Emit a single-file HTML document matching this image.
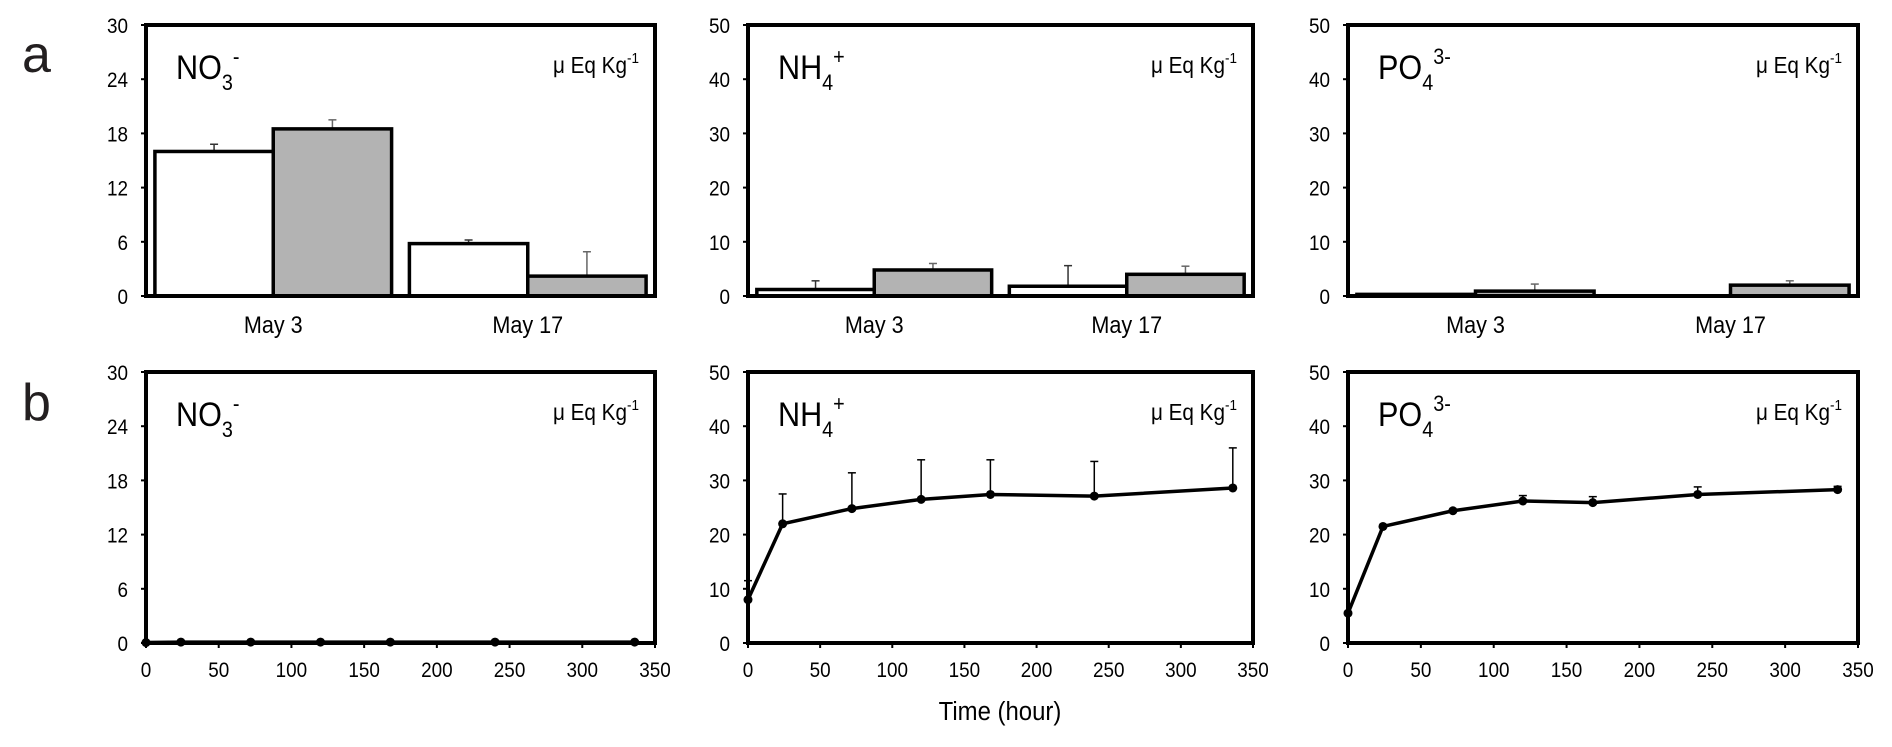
<!DOCTYPE html>
<html><head><meta charset="utf-8"><style>
body{margin:0;background:#fff;}
svg{display:block;font-family:"Liberation Sans",Arial,sans-serif;}
</style></head><body>
<svg id="fig" width="1892" height="747" viewBox="0 0 1892 747" xmlns="http://www.w3.org/2000/svg">
<text x="22" y="72" font-size="52" fill="#231f20">a</text>
<text x="22" y="420" font-size="52" fill="#231f20">b</text>
<text x="1000" y="720" font-size="26" text-anchor="middle" transform="translate(1000 0) scale(0.92 1) translate(-1000 0)">Time (hour)</text>
</svg>
<script>
// ---- data ----
const barCategories = ["May 3", "May 17"];
const no3White = [16, 5.8];
const no3WhiteErr = [16.8, 6.2];
const no3Gray = [18.5, 2.2];
const no3GrayErr = [19.5, 4.9];
const nh4White = [1.2, 1.8];
const nh4WhiteErr = [2.8, 5.6];
const nh4Gray = [4.8, 4.0];
const nh4GrayErr = [6.0, 5.5];
const po4White = [0.3, 0];
const po4WhiteErr = [0.3, 0];
const po4Gray = [0.9, 2.0];
const po4GrayErr = [2.2, 2.8];
const times = [0, 24, 72, 120, 168, 240, 336];
const no3Line = [0.05, 0.1, 0.1, 0.1, 0.1, 0.1, 0.1];
const no3LineErr = [0.05, 0.1, 0.1, 0.1, 0.1, 0.1, 0.1];
const nh4Line = [8, 22, 24.8, 26.5, 27.4, 27.1, 28.6];
const nh4LineErr = [11.5, 27.5, 31.4, 33.8, 33.8, 33.5, 36];
const po4Line = [5.5, 21.5, 24.4, 26.2, 25.9, 27.4, 28.3];
const po4LineErr = [5.5, 21.5, 24.4, 27.2, 27.0, 28.8, 28.9];
const ticks30 = [0, 6, 12, 18, 24, 30];
const ticks50 = [0, 10, 20, 30, 40, 50];
const timeTicks = [0, 50, 100, 150, 200, 250, 300, 350];

const NS = "http://www.w3.org/2000/svg";
const svg = document.getElementById("fig");
function mk(tag, attrs, parent, text) {
  const e = document.createElementNS(NS, tag);
  for (const k in attrs) e.setAttribute(k, attrs[k]);
  if (text !== undefined) e.textContent = text;
  (parent || svg).appendChild(e);
  return e;
}
function squeeze(el, ax) {
  el.setAttribute("transform", "translate(" + ax + " 0) scale(0.9 1) translate(" + (-ax) + " 0)");
}
const cols = [[146, 655], [748, 1253], [1348, 1858]];
const rows = [[25, 296], [372, 643]];

function frame(col, row, ticks, ymax, ion, sub, sup, name) {
  const [x0, x1] = cols[col], [y0, y1] = rows[row];
  const g = mk("g", {});
  
  
  const y = v => y1 - v / ymax * (y1 - y0);
  ticks.forEach(t => {
    const l = mk("line", {x1: x0 - 5, x2: x0, y1: y(t), y2: y(t), stroke: "#000", "stroke-width": 2}, g);
    
    
    const tx = mk("text", {x: x0 - 18, y: y(t) + 8, "font-size": 21, "text-anchor": "end"}, g, String(t));
    squeeze(tx, x0 - 18);
    
    
  });
  const il = mk("text", {x: x0 + 30, y: y0 + 54, "font-size": 34}, g);
  squeeze(il, x0 + 30);
  
  
  mk("tspan", {}, il, ion);
  mk("tspan", {"font-size": 22, dy: 11}, il, sub);
  mk("tspan", {"font-size": 22, dy: -26}, il, sup);
  const u = mk("text", {x: x1 - 16, y: y0 + 48, "font-size": 23, "text-anchor": "end"}, g);
  squeeze(u, x1 - 16);
  
  
  mk("tspan", {}, u, "μ Eq Kg");
  mk("tspan", {"font-size": 15, dy: -10}, u, "-1");
  return {g, x0, x1, y0, y1, y};
}
function border(p) {
  const r = mk("rect", {x: p.x0, y: p.y0, width: p.x1 - p.x0, height: p.y1 - p.y0, fill: "none", stroke: "#000", "stroke-width": 4}, p.g);
  
  
}
function barPanel(col, ymax, ticks, white, whiteErr, gray, grayErr, ion, sub, sup, name) {
  const p = frame(col, 0, ticks, ymax, ion, sub, sup, name);
  const cw = (p.x1 - p.x0) / barCategories.length;
  barCategories.forEach((c, i) => {
    const cx = p.x0 + cw * (i + 0.5);
    const bw = cw * 0.465;
    [[white, whiteErr, "#fff", cx - bw, "#333"], [gray, grayErr, "#b3b3b3", cx, "#666"]].forEach(([vals, errs, fill, bx, ec], k) => {
      const ex = bx + bw / 2;
      if (errs[i] > vals[i]) {
        const e = mk("line", {x1: ex, x2: ex, y1: p.y(errs[i]), y2: p.y(vals[i]), stroke: ec, "stroke-width": 1.5}, p.g);
        
        
        const cap = mk("line", {x1: ex - 4, x2: ex + 4, y1: p.y(errs[i]), y2: p.y(errs[i]), stroke: ec, "stroke-width": 1.5}, p.g);
        
        
      }
      if (vals[i] > 0) {
        const b = mk("rect", {x: bx, y: p.y(vals[i]), width: bw, height: p.y(0) - p.y(vals[i]), fill: fill, stroke: "#000", "stroke-width": 3.5}, p.g);
        
        
      }
    });
    const lab = mk("text", {x: cx, y: p.y1 + 37, "font-size": 24, "text-anchor": "middle"}, p.g, c);
    squeeze(lab, cx);
    
    
  });
  border(p);
}
function linePanel(col, ymax, ticks, vals, errs, ion, sub, sup, name) {
  const p = frame(col, 1, ticks, ymax, ion, sub, sup, name);
  const x = t => p.x0 + t / 350 * (p.x1 - p.x0);
  timeTicks.forEach(t => {
    const l = mk("line", {x1: x(t), x2: x(t), y1: p.y1, y2: p.y1 + 5, stroke: "#000", "stroke-width": 2}, p.g);
    
    
    const tx = mk("text", {x: x(t), y: p.y1 + 34, "font-size": 21, "text-anchor": "middle"}, p.g, String(t));
    squeeze(tx, x(t));
    
    
  });
  times.forEach((t, i) => {
    if (errs[i] > vals[i]) {
      const e = mk("line", {x1: x(t), x2: x(t), y1: p.y(errs[i]), y2: p.y(vals[i]), stroke: "#000", "stroke-width": 1.5}, p.g);
      
      
      const cap = mk("line", {x1: x(t) - 4, x2: x(t) + 4, y1: p.y(errs[i]), y2: p.y(errs[i]), stroke: "#000", "stroke-width": 1.5}, p.g);
      
      
    }
  });
  const pl = mk("polyline", {points: times.map((t, i) => x(t) + "," + p.y(vals[i])).join(" "), fill: "none", stroke: "#000", "stroke-width": 3.5}, p.g);
  
  
  times.forEach((t, i) => {
    const c = mk("circle", {cx: x(t), cy: p.y(vals[i]), r: 4.5, fill: "#000"}, p.g);
    
    
  });
  border(p);
}
barPanel(0, 30, ticks30, no3White, no3WhiteErr, no3Gray, no3GrayErr, "NO", "3", "-", "panel-a-no3");
barPanel(1, 50, ticks50, nh4White, nh4WhiteErr, nh4Gray, nh4GrayErr, "NH", "4", "+", "panel-a-nh4");
barPanel(2, 50, ticks50, po4White, po4WhiteErr, po4Gray, po4GrayErr, "PO", "4", "3-", "panel-a-po4");
linePanel(0, 30, ticks30, no3Line, no3LineErr, "NO", "3", "-", "panel-b-no3");
linePanel(1, 50, ticks50, nh4Line, nh4LineErr, "NH", "4", "+", "panel-b-nh4");
linePanel(2, 50, ticks50, po4Line, po4LineErr, "PO", "4", "3-", "panel-b-po4");
</script>
</body></html>
